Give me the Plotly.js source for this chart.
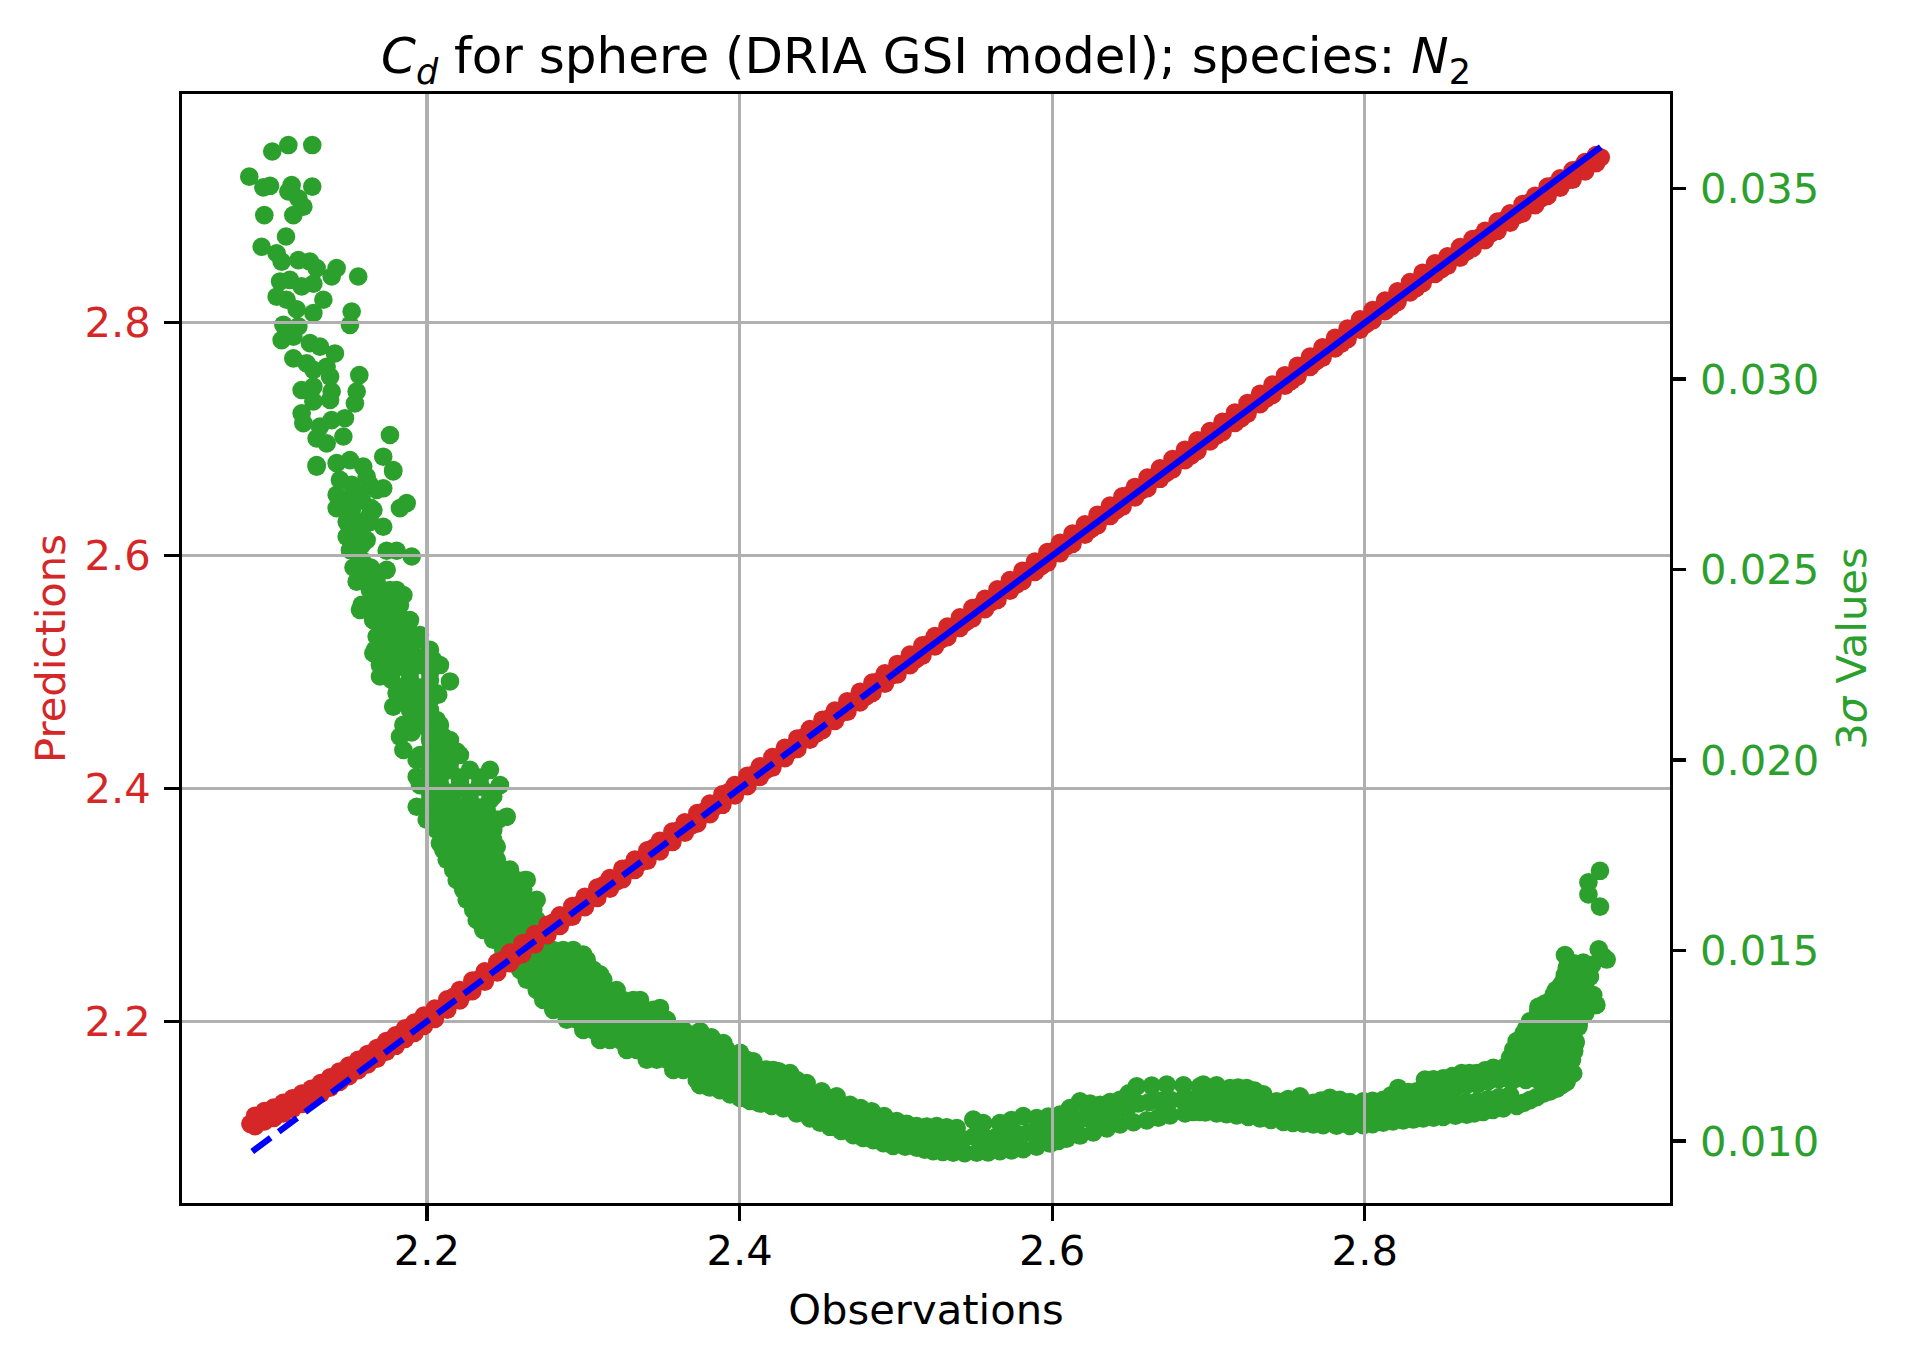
<!DOCTYPE html>
<html>
<head>
<meta charset="utf-8">
<script src="https://cdn.plot.ly/plotly-3.0.1.min.js"></script>
<style>html,body{margin:0;padding:0;background:#fff;}#chart{width:1905px;height:1359px;}</style>
</head>
<body>
<div id="chart"></div>
<script>
// ---------------- DATA ----------------
// Predictions vs observations: [observation, prediction]
const predPairs = [
[2.087,2.112],[2.093,2.117],[2.099,2.119],[2.105,2.124],[2.111,2.126],[2.117,2.131],[2.123,2.134],[2.129,2.139],[2.135,2.143],[2.141,2.149],
[2.147,2.153],[2.153,2.160],[2.159,2.163],[2.165,2.170],[2.171,2.174],[2.177,2.181],[2.183,2.185],[2.189,2.193],[2.195,2.196],[2.201,2.204],
[2.209,2.211],[2.217,2.221],[2.225,2.225],[2.233,2.236],[2.241,2.242],[2.249,2.253],[2.257,2.256],[2.265,2.268],[2.273,2.274],[2.281,2.285],
[2.289,2.289],[2.297,2.300],[2.305,2.306],[2.313,2.317],[2.321,2.320],[2.329,2.332],[2.337,2.337],[2.345,2.349],[2.353,2.354],[2.361,2.364],
[2.369,2.368],[2.377,2.380],[2.385,2.385],[2.393,2.397],[2.401,2.402],[2.409,2.412],[2.417,2.416],[2.425,2.427],[2.433,2.433],[2.441,2.444],
[2.449,2.447],[2.457,2.460],[2.465,2.465],[2.473,2.475],[2.481,2.479],[2.489,2.492],[2.497,2.497],[2.505,2.507],[2.513,2.511],[2.521,2.524],
[2.529,2.528],[2.537,2.539],[2.545,2.543],[2.553,2.556],[2.561,2.560],[2.569,2.571],[2.577,2.575],[2.585,2.587],[2.593,2.591],[2.601,2.604],
[2.609,2.608],[2.617,2.619],[2.625,2.623],[2.633,2.635],[2.641,2.639],[2.649,2.652],[2.657,2.656],[2.665,2.667],[2.673,2.671],[2.681,2.683],
[2.689,2.686],[2.697,2.699],[2.705,2.703],[2.713,2.715],[2.721,2.718],[2.729,2.731],[2.737,2.735],[2.745,2.746],[2.753,2.750],[2.761,2.763],
[2.769,2.767],[2.777,2.778],[2.785,2.782],[2.793,2.795],[2.801,2.799],[2.809,2.811],[2.817,2.814],[2.825,2.826],[2.833,2.830],[2.841,2.842],
[2.849,2.846],[2.857,2.857],[2.865,2.861],[2.873,2.873],[2.881,2.877],[2.889,2.888],[2.897,2.892],[2.905,2.903],[2.913,2.907],[2.921,2.918],
[2.929,2.922],[2.937,2.932],[2.945,2.937],[2.951,2.942]
];
const predPairsSpread = [
[2.090,2.119],[2.096,2.114],[2.102,2.126],[2.108,2.121],[2.114,2.134],[2.120,2.129],[2.126,2.142],[2.132,2.138],[2.138,2.152],[2.144,2.148],
[2.150,2.162],[2.156,2.158],[2.162,2.172],[2.168,2.168],[2.174,2.183],[2.180,2.179],[2.186,2.194],[2.192,2.190],[2.198,2.205],
[2.205,2.202],[2.213,2.219],[2.221,2.218],[2.229,2.235],[2.237,2.234],[2.245,2.251],[2.253,2.250],[2.261,2.267],[2.269,2.266],[2.277,2.283],
[2.285,2.282],[2.293,2.299],[2.301,2.298],[2.309,2.315],[2.317,2.314],[2.325,2.331],[2.333,2.330],[2.341,2.347],[2.349,2.346],[2.357,2.363],
[2.365,2.362],[2.373,2.379],[2.381,2.378],[2.389,2.395],[2.397,2.394],[2.405,2.411],[2.413,2.410],[2.421,2.427],[2.429,2.426],[2.437,2.443],
[2.445,2.442],[2.453,2.459],[2.461,2.458],[2.469,2.475],[2.477,2.474],[2.485,2.491],[2.493,2.490],[2.501,2.507],[2.509,2.506],[2.517,2.523],
[2.525,2.522],[2.533,2.539],[2.541,2.538],[2.549,2.555],[2.557,2.554],[2.565,2.571],[2.573,2.570],[2.581,2.587],[2.589,2.586],[2.597,2.603],
[2.605,2.602],[2.613,2.619],[2.621,2.618],[2.629,2.635],[2.637,2.634],[2.645,2.651],[2.653,2.650],[2.661,2.667],[2.669,2.666],[2.677,2.683],
[2.685,2.682],[2.693,2.699],[2.701,2.698],[2.709,2.715],[2.717,2.714],[2.725,2.731],[2.733,2.730],[2.741,2.747],[2.749,2.746],[2.757,2.763],
[2.765,2.762],[2.773,2.779],[2.781,2.778],[2.789,2.795],[2.797,2.794],[2.805,2.811],[2.813,2.810],[2.821,2.827],[2.829,2.826],[2.837,2.843],
[2.845,2.842],[2.853,2.857],[2.861,2.856],[2.869,2.872],[2.877,2.871],[2.885,2.887],[2.893,2.886],[2.901,2.902],[2.909,2.901],[2.917,2.917],
[2.925,2.916],[2.933,2.931],[2.941,2.930],[2.948,2.944]
];
const predPairsSpreadOpp = [
[2.090,2.110],[2.096,2.123],[2.102,2.117],[2.108,2.130],[2.114,2.125],[2.120,2.138],[2.126,2.133],[2.132,2.147],[2.138,2.143],[2.144,2.157],
[2.150,2.153],[2.156,2.167],[2.162,2.163],[2.168,2.177],[2.174,2.174],[2.180,2.188],[2.186,2.185],[2.192,2.199],[2.198,2.196],
[2.205,2.211],[2.213,2.210],[2.221,2.227],[2.229,2.226],[2.237,2.243],[2.245,2.242],[2.253,2.259],[2.261,2.258],[2.269,2.275],[2.277,2.274],
[2.285,2.291],[2.293,2.290],[2.301,2.307],[2.309,2.306],[2.317,2.323],[2.325,2.322],[2.333,2.339],[2.341,2.338],[2.349,2.355],[2.357,2.354],
[2.365,2.371],[2.373,2.370],[2.381,2.387],[2.389,2.386],[2.397,2.403],[2.405,2.402],[2.413,2.419],[2.421,2.418],[2.429,2.435],[2.437,2.434],
[2.445,2.451],[2.453,2.450],[2.461,2.467],[2.469,2.466],[2.477,2.483],[2.485,2.482],[2.493,2.499],[2.501,2.498],[2.509,2.515],[2.517,2.514],
[2.525,2.531],[2.533,2.530],[2.541,2.547],[2.549,2.546],[2.557,2.563],[2.565,2.562],[2.573,2.579],[2.581,2.578],[2.589,2.595],[2.597,2.594],
[2.605,2.611],[2.613,2.610],[2.621,2.627],[2.629,2.626],[2.637,2.643],[2.645,2.642],[2.653,2.659],[2.661,2.658],[2.669,2.675],[2.677,2.674],
[2.685,2.691],[2.693,2.690],[2.701,2.707],[2.709,2.706],[2.717,2.723],[2.725,2.722],[2.733,2.739],[2.741,2.738],[2.749,2.755],[2.757,2.754],
[2.765,2.771],[2.773,2.770],[2.781,2.787],[2.789,2.786],[2.797,2.803],[2.805,2.802],[2.813,2.819],[2.821,2.818],[2.829,2.835],[2.837,2.834],
[2.845,2.851],[2.853,2.849],[2.861,2.865],[2.869,2.864],[2.877,2.879],[2.885,2.879],[2.893,2.894],[2.901,2.894],[2.909,2.909],[2.917,2.909],
[2.925,2.924],[2.933,2.923],[2.941,2.938],[2.948,2.937]
];

// identity reference line (observations = predictions)
const refDashed = [2.0882, 2.50];
const refSolid  = [2.50, 2.951];

// 3-sigma values: [observation, 3 sigma]
const sigmaScatterTop = [
[2.101,0.03597],[2.1113,0.03614],[2.1266,0.03614],[2.0863,0.03531],[2.0953,0.03503],[2.0996,0.03507],[2.1134,0.03509],[2.1266,0.03505],
[2.1113,0.03492],[2.1177,0.03474],[2.1209,0.03452],[2.0959,0.0343],[2.1145,0.0343],[2.1098,0.03374],[2.0942,0.03347],[2.1038,0.0333],
[2.107,0.03308],[2.1177,0.03312],[2.1251,0.03308],[2.1294,0.03291],[2.1422,0.03291],[2.139,0.03269],[2.156,0.03269],[2.106,0.03256],
[2.1123,0.0326],[2.1198,0.03243],[2.1273,0.0325],[2.1038,0.03216],[2.1102,0.03208],[2.1166,0.03183],[2.1337,0.03208],[2.1273,0.03173],
[2.1518,0.03177],[2.1507,0.03142],[2.1081,0.03142],[2.1177,0.03138],[2.107,0.03102],[2.1145,0.03111],[2.1251,0.03094],[2.1315,0.03085],
[2.1411,0.03067],[2.1145,0.03054],[2.123,0.03041],[2.1273,0.03024],[2.1358,0.03032],[2.138,0.03006],[2.1567,0.0301],[2.1198,0.02971],
[2.1273,0.0298],[2.139,0.02967],[2.155,0.02967],[2.1539,0.02936],[2.1198,0.0291],[2.1273,0.02941],[2.138,0.02945],[2.1209,0.02884],
[2.1315,0.02875],[2.139,0.02892],[2.1475,0.02897],[2.1763,0.02853],[2.1294,0.02844],[2.1358,0.02831],[2.1465,0.02849],[2.172,0.02796],
[2.1294,0.02774],[2.1422,0.02779],[2.1507,0.02787],[2.1592,0.0277],[2.1784,0.02761]
];
const sigmaSteepBand = [
[2.1294,0.0277],[2.1784,0.02757],[2.1443,0.02735],[2.1614,0.02744],[2.172,0.02713],[2.1422,0.02696],[2.155,0.0270],[2.1678,0.02709],
[2.1422,0.02661],[2.1657,0.02656],[2.1827,0.02661],[2.187,0.02674],[2.1486,0.02625],[2.1635,0.02625],[2.1486,0.02586],[2.1614,0.02577],
[2.1571,0.02612],[2.172,0.02612],[2.1507,0.02551],[2.1742,0.02549],[2.1806,0.02549],[2.1902,0.02534],[2.1593,0.02516],[2.1635,0.02499],
[2.1742,0.02499],[2.155,0.02468],[2.1678,0.02468],[2.1806,0.02446],[2.1849,0.02433],[2.1678,0.0242],[2.1571,0.02394],[2.1742,0.02416],
[2.1657,0.02367],[2.1827,0.02376],[2.1678,0.02324],[2.1742,0.02333],[2.1891,0.02333],[2.1657,0.0228],[2.1806,0.02297],[2.1934,0.02315],
[2.1765,0.02262],[2.1891,0.02262],[2.204,0.02262],[2.1699,0.02219],[2.1827,0.02245],[2.2147,0.02206],[2.2062,0.02175],[2.1891,0.0221],
[2.1806,0.02175],[2.2,0.02175],[2.1784,0.0214],[2.187,0.02175],[2.1934,0.02157],[2.1934,0.02114],[2.2062,0.02105],[2.1891,0.02087],
[2.2,0.02087],[2.1827,0.02061],[2.2104,0.02061],[2.219,0.02022],[2.1849,0.02026],[2.2,0.02018],[2.1934,0.0200],[2.204,0.0200],
[2.1934,0.01956],[2.2,0.01948],[2.2083,0.01974],[2.2211,0.01948],[2.1934,0.01877],[2.2083,0.01913],[2.2168,0.01913],[2.2339,0.0193],
[2.2424,0.01904],[2.2,0.01877],[2.2254,0.01877],[2.251,0.01851],[2.204,0.01843],[2.219,0.0186],[2.2382,0.01825],[2.2147,0.01808],
[2.2296,0.01799],[2.2446,0.01772],[2.2083,0.01781],[2.2211,0.01781]
];
const sigmaSteepFill = [
[2.1518,0.02722],[2.1635,0.02722],[2.1465,0.02682],[2.1582,0.02682],[2.1518,0.02643],[2.1635,0.02643],
[2.1507,0.02604],[2.1582,0.02604],[2.1518,0.02564],[2.1582,0.02564],[2.1582,0.02525],[2.1582,0.02486],[2.1635,0.02486],
[2.1635,0.02446],[2.1699,0.02446],[2.1763,0.02446],[2.1582,0.02407],[2.1699,0.02407],[2.1827,0.02407],
[2.1657,0.02367],[2.1763,0.02367],[2.1891,0.02367],[2.1699,0.02328],[2.1827,0.02328],[2.1955,0.02328],
[2.1667,0.02289],[2.1763,0.02289],[2.1891,0.02289],[2.2019,0.02289],[2.1699,0.02249],[2.1827,0.02249],[2.1955,0.02249],[2.2083,0.02249],
[2.1774,0.0221],[2.1891,0.0221],[2.2019,0.0221],[2.1827,0.02171],[2.1955,0.02171],[2.2072,0.02171],
[2.1891,0.02131],[2.2019,0.02131],[2.1849,0.02092],[2.1955,0.02092],[2.2083,0.02092],[2.2019,0.02052],[2.2147,0.02052],
[2.1955,0.02013],[2.2083,0.02013],[2.2211,0.02013],[2.2019,0.01974],[2.2147,0.01974],[2.2275,0.01974],[2.2403,0.01974],
[2.1955,0.01934],[2.2083,0.01934],[2.2211,0.01934],[2.2339,0.01934],[2.2467,0.01934],
[2.2019,0.01895],[2.2147,0.01895],[2.2275,0.01895],[2.2403,0.01895],[2.2083,0.01856],[2.2211,0.01856],[2.2339,0.01856],
[2.2147,0.01816],[2.2275,0.01816],[2.2403,0.01816]
];
const sigmaSteepFill2 = [
[2.1576,0.02702],[2.1523,0.02662],[2.164,0.02662],[2.1576,0.02623],[2.1545,0.02584],[2.155,0.02544],[2.153,0.02505],[2.164,0.02505],
[2.161,0.02466],[2.1667,0.02426],[2.1731,0.02426],[2.164,0.02387],[2.1757,0.02387],[2.171,0.02347],[2.1827,0.02347],
[2.1763,0.02308],[2.1891,0.02308],[2.1715,0.02269],[2.1827,0.02269],[2.1955,0.02269],[2.1763,0.02229],[2.1891,0.02229],[2.2019,0.02229],
[2.1832,0.0219],[2.1955,0.0219],[2.1891,0.02151],[2.2013,0.02151],[2.1955,0.02111],[2.1902,0.02072],[2.2019,0.02072],[2.2083,0.02032],
[2.2019,0.01993],[2.2147,0.01993],[2.2083,0.01954],[2.2211,0.01954],[2.2339,0.01954],[2.2019,0.01914],[2.2147,0.01914],[2.2275,0.01914],
[2.2403,0.01914],[2.2083,0.01875],[2.2211,0.01875],[2.2339,0.01875],[2.2147,0.01836],[2.2275,0.01836],[2.2211,0.01796],[2.2339,0.01796]
];
const sigmaKnee = [
[2.1998,0.01843],[2.2126,0.01843],[2.2254,0.01843],[2.2382,0.01843],[2.2456,0.01843],[2.2382,0.01869],
[2.2062,0.01816],[2.219,0.01816],[2.2318,0.01816],[2.2424,0.01816],
[2.2104,0.0179],[2.2232,0.0179],[2.236,0.0179],[2.2414,0.0179],
[2.2168,0.01764],[2.2296,0.01764],[2.2424,0.01764],
[2.2126,0.01738],[2.2254,0.01738],[2.2382,0.01738],[2.2446,0.01738],[2.2531,0.01712],
[2.2168,0.01711],[2.2296,0.01711],[2.2424,0.01711],[2.251,0.01711],
[2.219,0.01685],[2.2318,0.01685],[2.2446,0.01685],[2.2574,0.01685],[2.2627,0.01685],
[2.2232,0.01659],[2.236,0.01659],[2.2488,0.01659],[2.2616,0.01659],
[2.2254,0.01633],[2.2382,0.01633],[2.251,0.01633],[2.2638,0.01633],[2.2702,0.01633],
[2.2296,0.01606],[2.2424,0.01606],[2.2552,0.01606],[2.268,0.01606],
[2.2318,0.0158],[2.2446,0.0158],[2.2574,0.0158],[2.2702,0.0158],
[2.236,0.01554],[2.2488,0.01554],[2.2616,0.01554],[2.2723,0.01554],
[2.2424,0.01528],[2.2552,0.01528],[2.268,0.01528],[2.2744,0.01528],
[2.2488,0.01501],[2.2616,0.01501],[2.2744,0.01501],[2.2872,0.01501],[2.3,0.01489],
[2.2552,0.01475],[2.268,0.01475],[2.2808,0.01475],[2.2936,0.01475],[2.3022,0.01475],
[2.2595,0.01449],[2.2723,0.01449],[2.2851,0.01449],[2.2979,0.01449],[2.3064,0.01449],[2.3107,0.01437],
[2.2638,0.01423],[2.2766,0.01423],[2.2894,0.01423],[2.3022,0.01423],[2.3128,0.01423],
[2.2702,0.01396],[2.283,0.01396],[2.2958,0.01396],[2.3086,0.01396],[2.3213,0.01396],
[2.2744,0.0137],[2.2872,0.0137],[2.3,0.0137],[2.3128,0.0137],[2.3256,0.0137],[2.3363,0.0137],
[2.2808,0.01344],[2.2936,0.01344],[2.3064,0.01344],[2.3192,0.01344],[2.332,0.01344],[2.3448,0.01344],[2.3491,0.01349],
[2.2894,0.01318],[2.3022,0.01318],[2.315,0.01318],[2.3278,0.01318],[2.3406,0.01318],[2.3534,0.01318],
[2.3,0.01291],[2.3128,0.01291],[2.3256,0.01291],[2.3384,0.01291],[2.3512,0.01291],[2.364,0.01291],[2.3683,0.0128],
[2.3107,0.01265],[2.3235,0.01265],[2.3363,0.01265],[2.3491,0.01265],[2.3619,0.01265],[2.3747,0.01265],
[2.3278,0.01239],[2.3406,0.01239],[2.3534,0.01239],[2.3662,0.01239],[2.379,0.01239],[2.3917,0.01239],
[2.3406,0.01213],[2.3534,0.01213],[2.3662,0.01213],[2.379,0.01213],[2.3917,0.01213],[2.4045,0.01213],
[2.3576,0.01186],[2.3704,0.01186],[2.3832,0.01186],[2.396,0.01186],[2.4088,0.01186],[2.4216,0.01186],
[2.3726,0.0116],[2.3853,0.0116],[2.3981,0.0116],[2.4109,0.0116],[2.4237,0.0116],[2.4365,0.0116],
[2.3917,0.01134],[2.4045,0.01134],[2.4173,0.01134],[2.4301,0.01134],[2.4386,0.01134],
[2.4088,0.01108],[2.4216,0.01108],[2.4344,0.01108]
];
const sigmaKneeFill = [
[2.2062,0.01843],[2.219,0.01843],[2.2318,0.01843],[2.2446,0.01843],
[2.2126,0.01816],[2.2254,0.01816],[2.2382,0.01816],
[2.2168,0.0179],[2.2296,0.0179],[2.2424,0.0179],
[2.2104,0.01764],[2.2232,0.01764],[2.236,0.01764],
[2.219,0.01738],[2.2318,0.01738],[2.2446,0.01738],
[2.2232,0.01711],[2.236,0.01711],[2.2488,0.01711],
[2.2254,0.01685],[2.2382,0.01685],[2.251,0.01685],[2.2638,0.01685],
[2.2296,0.01659],[2.2424,0.01659],[2.2552,0.01659],
[2.2318,0.01633],[2.2446,0.01633],[2.2574,0.01633],
[2.236,0.01606],[2.2488,0.01606],[2.2616,0.01606],
[2.2382,0.0158],[2.251,0.0158],[2.2638,0.0158],
[2.2424,0.01554],[2.2552,0.01554],[2.268,0.01554],
[2.2488,0.01528],[2.2616,0.01528],
[2.2552,0.01501],[2.268,0.01501],[2.2808,0.01501],[2.2936,0.01501],
[2.2616,0.01475],[2.2744,0.01475],[2.2872,0.01475],[2.3,0.01475],
[2.2659,0.01449],[2.2787,0.01449],[2.2915,0.01449],[2.3043,0.01449],
[2.2702,0.01423],[2.283,0.01423],[2.2958,0.01423],[2.3086,0.01423],
[2.2766,0.01396],[2.2894,0.01396],[2.3022,0.01396],[2.315,0.01396],
[2.2808,0.0137],[2.2936,0.0137],[2.3064,0.0137],[2.3192,0.0137],[2.332,0.0137],
[2.2872,0.01344],[2.3,0.01344],[2.3128,0.01344],[2.3256,0.01344],[2.3384,0.01344],
[2.2958,0.01318],[2.3086,0.01318],[2.3214,0.01318],[2.3342,0.01318],[2.347,0.01318],
[2.3064,0.01291],[2.3192,0.01291],[2.332,0.01291],[2.3448,0.01291],[2.3576,0.01291],
[2.3171,0.01265],[2.3299,0.01265],[2.3427,0.01265],[2.3555,0.01265],[2.3683,0.01265],
[2.3342,0.01239],[2.347,0.01239],[2.3598,0.01239],[2.3726,0.01239],[2.3854,0.01239],
[2.347,0.01213],[2.3598,0.01213],[2.3726,0.01213],[2.3854,0.01213],[2.3981,0.01213],
[2.364,0.01186],[2.3768,0.01186],[2.3896,0.01186],[2.4024,0.01186],[2.4152,0.01186],
[2.379,0.0116],[2.3917,0.0116],[2.4045,0.0116],[2.4173,0.0116],[2.4301,0.0116],
[2.3981,0.01134],[2.4109,0.01134],[2.4237,0.01134],[2.4365,0.01134],
[2.4152,0.01108],[2.428,0.01108]
];
const sigmaValleyUpper = [
[2.3747,0.01288],[2.382,0.01272],[2.3896,0.01257],[2.4003,0.01231],[2.4088,0.01209],[2.4173,0.01187],[2.425,0.01183],[2.4322,0.01178],
[2.4429,0.01152],[2.4525,0.0113],[2.4621,0.01117],[2.4706,0.01095],[2.4775,0.01086],[2.4845,0.01078],[2.4925,0.01065],[2.5005,0.01052],
[2.507,0.01045],[2.5133,0.01039],[2.5197,0.01038],[2.5261,0.01039],[2.5325,0.01036],[2.5389,0.01034],[2.5495,0.01056],[2.5559,0.01047],
[2.5666,0.01047],[2.574,0.01055],[2.5815,0.01065],[2.5901,0.0106],[2.5975,0.01064],[2.605,0.01069],[2.6114,0.01086],[2.6178,0.01104],
[2.6242,0.01098],[2.6306,0.01095],[2.637,0.01102],[2.6434,0.01108],[2.649,0.01125],[2.6541,0.01143],[2.6637,0.01145],[2.6733,0.01148],
[2.684,0.01146],[2.6946,0.01143]
];
const sigmaValleyLower = [
[2.3747,0.01146],[2.381,0.0114],[2.3875,0.01133],[2.394,0.01122],[2.4003,0.01113],[2.4067,0.01105],[2.4131,0.01098],[2.4205,0.01092],
[2.428,0.01085],[2.4365,0.01072],[2.445,0.01059],[2.4515,0.01048],[2.4578,0.01037],[2.465,0.01026],[2.4728,0.01015],[2.479,0.01008],
[2.4856,0.01002],[2.492,0.00994],[2.4983,0.00987],[2.506,0.00985],[2.5133,0.00982],[2.5185,0.00977],[2.5239,0.00973],[2.53,0.00971],
[2.5367,0.00969],[2.544,0.00968],[2.5517,0.00969],[2.559,0.0097],[2.5666,0.00973],[2.574,0.00975],[2.5815,0.00978],[2.59,0.00985],
[2.5986,0.00993],[2.604,0.0100],[2.6093,0.01006],[2.6178,0.01014],[2.6263,0.01022],[2.635,0.01033],[2.6434,0.01043],[2.652,0.01049],
[2.6605,0.01054],[2.668,0.01061],[2.6754,0.01067],[2.685,0.01072],[2.6946,0.01076]
];
const sigmaValleyMid = [
[2.375,0.0124],[2.375,0.01192],[2.382,0.01228],[2.382,0.01184],[2.389,0.01215],[2.389,0.01173],[2.396,0.01201],[2.396,0.01161],
[2.403,0.01187],[2.403,0.01148],[2.410,0.01171],[2.410,0.01137],[2.417,0.01157],[2.417,0.01126],[2.424,0.01152],[2.424,0.0112],
[2.431,0.01146],[2.431,0.01113],[2.438,0.01133],[2.438,0.01102],[2.445,0.0112],[2.445,0.0109],[2.452,0.01103],[2.452,0.01076],
[2.459,0.01091],[2.459,0.01063],[2.466,0.01079],[2.466,0.01051],[2.473,0.01066],[2.473,0.01039],[2.480,0.01057],[2.480,0.01031],
[2.487,0.0105],[2.487,0.01025],[2.494,0.01028],[2.501,0.0102],[2.508,0.01014],[2.515,0.0101],[2.522,0.01007],[2.529,0.01004],
[2.536,0.01002],[2.543,0.01004],[2.550,0.01012],[2.557,0.01008],[2.564,0.0101],[2.571,0.01013],[2.578,0.01018],[2.585,0.01022],
[2.592,0.01023],[2.599,0.01029],[2.606,0.01036],[2.613,0.0105],[2.620,0.01059],[2.627,0.01059],[2.634,0.01065],[2.641,0.01073],
[2.648,0.01085],[2.655,0.01098],[2.662,0.01102],[2.669,0.01105],[2.676,0.01107],[2.683,0.01108],[2.690,0.01109]
];
const sigmaRightUpper = [
[2.6967,0.01148],[2.7052,0.01146],[2.7138,0.01139],[2.719,0.0114],[2.7244,0.01139],[2.7295,0.01132],[2.7351,0.01122],[2.7436,0.01104],
[2.751,0.0111],[2.7585,0.01117],[2.767,0.011],[2.772,0.01106],[2.7777,0.01113],[2.784,0.01108],[2.7905,0.01102],[2.799,0.01104],
[2.805,0.01105],[2.8118,0.01108],[2.817,0.0112],[2.8214,0.01139],[2.828,0.01128],[2.8332,0.0113],[2.8385,0.01161],[2.844,0.01162],
[2.8502,0.01164],[2.856,0.0117],[2.862,0.01178],[2.867,0.01178],[2.8716,0.01178],[2.877,0.01185],[2.8822,0.01192],[2.8886,0.01192],
[2.8929,0.01218],[2.895,0.0124],[2.8972,0.01262],[2.9014,0.01279],[2.9035,0.01297],[2.9057,0.01314],[2.911,0.0134],[2.9148,0.01353],
[2.9185,0.01367],[2.9228,0.01393],[2.925,0.01406],[2.9271,0.01419],[2.9292,0.01454],[2.9281,0.01488]
];
const sigmaRightLower = [
[2.6903,0.01076],[2.698,0.01075],[2.7052,0.01072],[2.7115,0.0107],[2.718,0.01067],[2.7255,0.01063],[2.7329,0.01059],[2.74,0.01055],
[2.7479,0.0105],[2.754,0.01047],[2.7607,0.01045],[2.767,0.01043],[2.7734,0.01041],[2.782,0.0104],[2.7905,0.01039],[2.799,0.01041],
[2.805,0.01044],[2.8118,0.01048],[2.818,0.01051],[2.8246,0.01054],[2.831,0.01056],[2.8374,0.01059],[2.844,0.01061],[2.8502,0.01063],
[2.858,0.01066],[2.8652,0.01069],[2.87,0.01072],[2.8758,0.01076],[2.882,0.01081],[2.8886,0.01085],[2.8972,0.01092],[2.9015,0.011],
[2.9057,0.01107],[2.91,0.01115],[2.9142,0.01124],[2.9185,0.0113],[2.9228,0.01137],[2.926,0.01146],[2.9292,0.01155],[2.9334,0.01177],
[2.9198,0.01134],[2.9283,0.01169],[2.9326,0.01213],[2.9347,0.01256],[2.9368,0.013]
];
const sigmaRightMid = [
[2.697,0.01112],[2.704,0.0111],[2.711,0.01106],[2.718,0.01104],[2.725,0.01101],[2.732,0.01092],[2.739,0.01086],[2.746,0.01079],
[2.753,0.01079],[2.760,0.0108],[2.767,0.01072],[2.774,0.01075],[2.781,0.01075],[2.788,0.01072],[2.795,0.01072],[2.802,0.01073],
[2.809,0.01077],[2.816,0.01084],[2.823,0.01095],[2.830,0.01093],[2.837,0.0109],[2.837,0.01125],[2.844,0.01093],[2.844,0.0113],
[2.851,0.01095],[2.851,0.01133],[2.858,0.01098],[2.858,0.0114],[2.865,0.01102],[2.865,0.01146],[2.872,0.01104],[2.872,0.01148],
[2.879,0.0111],[2.879,0.01157],[2.886,0.01115],[2.886,0.01162],[2.893,0.0112],[2.893,0.0116],[2.893,0.01195]
];
const sigmaTail = [
[2.895,0.0116],[2.903,0.0116],[2.911,0.0116],[2.919,0.0116],[2.926,0.0116],
[2.899,0.01185],[2.907,0.01185],[2.915,0.01185],[2.923,0.01185],[2.929,0.01185],
[2.893,0.0121],[2.901,0.0121],[2.909,0.0121],[2.917,0.0121],[2.925,0.0121],[2.932,0.0121],
[2.897,0.01235],[2.905,0.01235],[2.913,0.01235],[2.921,0.01235],[2.928,0.01235],[2.934,0.01235],
[2.898,0.0126],[2.906,0.0126],[2.914,0.0126],[2.922,0.0126],[2.930,0.0126],[2.935,0.0126],
[2.902,0.01285],[2.910,0.01285],[2.918,0.01285],[2.926,0.01285],[2.933,0.01285],
[2.907,0.0131],[2.915,0.0131],[2.923,0.0131],[2.931,0.0131],[2.937,0.0131],
[2.911,0.01335],[2.919,0.01335],[2.927,0.01335],[2.935,0.01335],[2.941,0.01335],
[2.915,0.0136],[2.923,0.0136],[2.931,0.0136],[2.939,0.0136],[2.944,0.0136],
[2.921,0.01385],[2.929,0.01385],[2.937,0.01385],[2.944,0.01385],
[2.926,0.0141],[2.934,0.0141],[2.941,0.0141],
[2.928,0.01435],[2.935,0.01435],[2.942,0.01435],
[2.930,0.0146],[2.937,0.0146],[2.944,0.0146],
[2.9473,0.01357],[2.9526,0.01484],[2.9505,0.01709],[2.9431,0.01679],[2.9431,0.01647],[2.9505,0.01615],[2.9497,0.01503],[2.9524,0.01484],
[2.9441,0.01431],[2.9398,0.01468],[2.9462,0.01383],[2.9377,0.01383],[2.9338,0.01466],[2.9454,0.01462],[2.931,0.0144],[2.9439,0.01431],
[2.9223,0.01396],[2.9482,0.01357],[2.9111,0.01352],[2.9548,0.01476]
];

// Axis ranges and ticks
const obsRange = [2.04325, 2.9953];
const predRange = [2.0440, 2.9965];
const sigmaRange = [0.00837, 0.03748];
const obsTicks = [2.2, 2.4, 2.6, 2.8];
const obsTickText = ['2.2', '2.4', '2.6', '2.8'];
const predTicks = [2.2, 2.4, 2.6, 2.8];
const predTickText = ['2.2', '2.4', '2.6', '2.8'];
const sigmaTicks = [0.010, 0.015, 0.020, 0.025, 0.030, 0.035];
const sigmaTickText = ['0.010', '0.015', '0.020', '0.025', '0.030', '0.035'];

// ---------------- CHART ----------------
const RED = '#d62728', GREEN = '#2ca02c', BLUE = '#0000ff';
const FONT = 'DejaVu Sans, Verdana, sans-serif';
const TICK = 41.7, LW = 3.33, TL = 14.6, MS = 18.6;

const sigmaAll = [].concat(sigmaScatterTop, sigmaSteepBand, sigmaSteepFill, sigmaSteepFill2, sigmaKnee, sigmaKneeFill,
  sigmaValleyUpper, sigmaValleyLower, sigmaValleyMid, sigmaRightUpper, sigmaRightLower, sigmaRightMid, sigmaTail);
const predAll = [].concat(predPairs, predPairsSpread, predPairsSpreadOpp);

const traces = [
  { type:'scatter', mode:'markers', xaxis:'x', yaxis:'y',
    x: sigmaAll.map(p => p[0]), y: sigmaAll.map(p => p[1]),
    marker:{ size:MS, color:GREEN, line:{width:0} }, hoverinfo:'skip' },
  { type:'scatter', mode:'markers', xaxis:'x2', yaxis:'y2',
    x: predAll.map(p => p[0]), y: predAll.map(p => p[1]),
    marker:{ size:MS, color:RED, line:{width:0} }, hoverinfo:'skip' },
  { type:'scatter', mode:'lines', xaxis:'x2', yaxis:'y2',
    x: refDashed, y: refDashed,
    line:{ color:BLUE, width:6.25, dash:'23px,10px' }, hoverinfo:'skip' },
  { type:'scatter', mode:'lines', xaxis:'x2', yaxis:'y2',
    x: refSolid, y: refSolid,
    line:{ color:BLUE, width:6.25 }, hoverinfo:'skip' }
];

const layout = {
  width:1905, height:1359,
  margin:{ l:182, r:235, t:94, b:156, pad:0 },
  paper_bgcolor:'#ffffff', plot_bgcolor:'rgba(0,0,0,0)',
  showlegend:false,
  font:{ family:FONT, size:TICK, color:'#000000' },
  title:{ text:'<i>C</i><sub><i>d</i></sub> for sphere (DRIA GSI model); species: <i>N</i><sub>2</sub>',
          font:{ family:FONT, size:50, color:'#000000' },
          x:0.5, xref:'paper', xanchor:'center', y:1, yref:'paper', yanchor:'bottom', pad:{ b:21 } },
  xaxis:{ domain:[0,1], range:obsRange, visible:false, fixedrange:true },
  yaxis:{ anchor:'x', side:'right', domain:[0,1], range:sigmaRange,
          tickmode:'array', tickvals:sigmaTicks, ticktext:sigmaTickText,
          ticks:'outside', ticklen:TL, tickwidth:LW, tickcolor:'#000000',
          tickfont:{ family:FONT, size:TICK, color:GREEN }, ticklabelstandoff:6,
          showgrid:false, zeroline:false, showline:false, automargin:false,
          title:{ text:'3<i>σ</i> Values', font:{ family:FONT, size:TICK, color:GREEN }, standoff:18 } },
  xaxis2:{ anchor:'y2', domain:[0,1], range:obsRange,
          tickmode:'array', tickvals:obsTicks, ticktext:obsTickText,
          ticks:'outside', ticklen:TL, tickwidth:LW, tickcolor:'#000000',
          tickfont:{ family:FONT, size:TICK, color:'#000000' }, ticklabelstandoff:-6,
          showgrid:true, gridcolor:'#b0b0b0', gridwidth:LW, zeroline:false,
          showline:true, linecolor:'#000000', linewidth:LW, mirror:true, automargin:false,
          title:{ text:'Observations', font:{ family:FONT, size:TICK, color:'#000000' }, standoff:22 } },
  yaxis2:{ anchor:'x2', side:'left', domain:[0,1], range:predRange,
          tickmode:'array', tickvals:predTicks, ticktext:predTickText,
          ticks:'outside', ticklen:TL, tickwidth:LW, tickcolor:'#000000',
          tickfont:{ family:FONT, size:TICK, color:RED }, ticklabelstandoff:5,
          showgrid:true, gridcolor:'#b0b0b0', gridwidth:LW, zeroline:false,
          showline:true, linecolor:'#000000', linewidth:LW, mirror:true, automargin:false,
          title:{ text:'Predictions', font:{ family:FONT, size:TICK, color:RED }, standoff:6 } }
};

Plotly.newPlot('chart', traces, layout, { staticPlot:true, displayModeBar:false });
</script>
</body>
</html>
